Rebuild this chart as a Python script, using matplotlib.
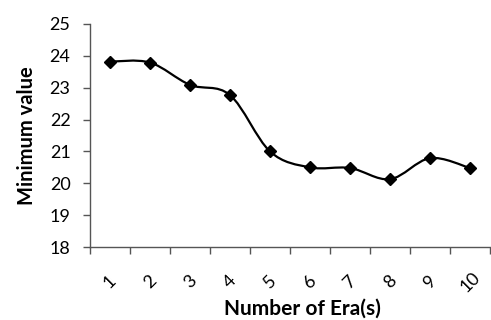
import matplotlib
matplotlib.use("Agg")
import matplotlib.pyplot as plt
from matplotlib.path import Path
from matplotlib.patches import PathPatch

eras = ["1", "2", "3", "4", "5", "6", "7", "8", "9", "10"]
min_values = [23.82, 23.79, 23.09, 22.77, 21.0, 20.5, 20.48, 20.13, 20.79, 20.48]

plt.rcParams['font.family'] = ['Lato', 'DejaVu Sans']

fig = plt.figure(figsize=(4.91, 3.2), dpi=100)
ax = fig.add_axes([0.1833, 0.228, 0.8147, 0.697])

xs = list(range(1, len(eras) + 1))

# smoothed line like excel (bezier segments through the points)
verts = [(xs[0], min_values[0])]
codes = [Path.MOVETO]
n = len(xs)
for i in range(n - 1):
    x0, y0 = xs[max(i - 1, 0)], min_values[max(i - 1, 0)]
    x1, y1 = xs[i], min_values[i]
    x2, y2 = xs[i + 1], min_values[i + 1]
    x3, y3 = xs[min(i + 2, n - 1)], min_values[min(i + 2, n - 1)]
    c1 = (x1 + (x2 - x0) / 6, y1 + (y2 - y0) / 6)
    c2 = (x2 - (x3 - x1) / 6, y2 - (y3 - y1) / 6)
    verts += [c1, c2, (x2, y2)]
    codes += [Path.CURVE4] * 3
ax.add_patch(PathPatch(Path(verts, codes), fill=False, lw=1.6, color='black'))
ax.plot(xs, min_values, linestyle='none', marker='D', markersize=6.5, color='black')

ax.set_xlim(0.5, 10.5)
ax.set_ylim(18, 25)
ax.set_yticks(range(18, 26))
ax.set_xticks([x - 0.5 for x in xs] + [10.5])
ax.set_xticklabels([])
ax.set_xticks(xs, minor=True)
ax.set_xticklabels(eras, minor=True, rotation=45, ha='center', va='center', fontsize=13)
ax.tick_params(axis='x', which='minor', length=0, pad=25)
ax.tick_params(axis='x', which='major', direction='out', length=5, width=1, color='#555555')
ax.tick_params(axis='y', direction='out', length=5, width=1, color='#555555', labelsize=13, pad=9)

for s in ['top', 'right']:
    ax.spines[s].set_visible(False)
for s in ['left', 'bottom']:
    ax.spines[s].set_color('#555555')
    ax.spines[s].set_linewidth(1)

ax.set_ylabel("Minimum value", fontsize=14.5, fontweight='bold', labelpad=9)
ax.set_xlabel("Number of Era(s)", fontsize=15, fontweight='bold', labelpad=0)
ax.xaxis.set_label_coords(0.53, -0.232)

fig.savefig("out.png", dpi=100)
